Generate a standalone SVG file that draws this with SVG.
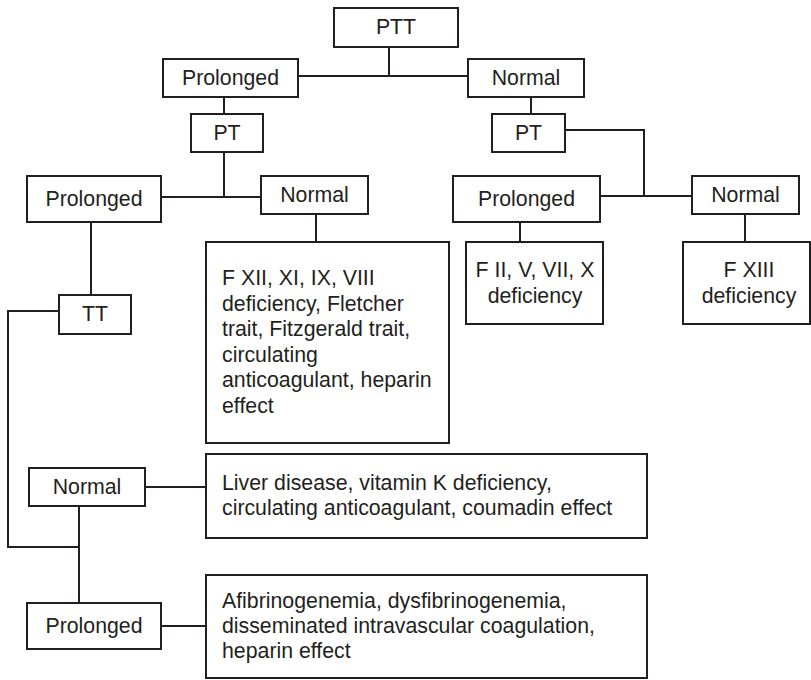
<svg xmlns="http://www.w3.org/2000/svg" width="811" height="680" viewBox="0 0 811 680">
<style>
rect{fill:#fff;stroke:#231f20;stroke-width:2}
.c{fill:none;stroke:#231f20;stroke-width:2}
text{font-family:"Liberation Sans",Arial,sans-serif;font-size:21.3px;fill:#231f20}
.m{text-anchor:middle}
</style>
<rect x="0" y="0" width="811" height="680" style="stroke:none"/>
<g id="connectors">
<path class="c" d="M389,47V76M298,76H468"/>
<path class="c" d="M224,97V114"/>
<path class="c" d="M531,97V114"/>
<path class="c" d="M224,152V197M161,197H261"/>
<path class="c" d="M565,130H644V196M600,196H692"/>
<path class="c" d="M316,214V242"/>
<path class="c" d="M520,222V242"/>
<path class="c" d="M745,214V242"/>
<path class="c" d="M91,222V295"/>
<path class="c" d="M59,311H8V547H79"/>
<path class="c" d="M145,487H206"/>
<path class="c" d="M79,506V603"/>
<path class="c" d="M161,626H206"/>
</g>
<g id="ptt"><rect x="334" y="8" width="124" height="39"/><text class="m" x="396" y="34">PTT</text></g>
<g id="ptt-prolonged"><rect x="163" y="59" width="135" height="38"/><text class="m" x="230.5" y="85">Prolonged</text></g>
<g id="ptt-normal"><rect x="468" y="59" width="116" height="38"/><text class="m" x="526" y="85">Normal</text></g>
<g id="pt-left"><rect x="191" y="114" width="72" height="38"/><text class="m" x="227" y="140">PT</text></g>
<g id="pt-right"><rect x="492" y="114" width="73" height="38"/><text class="m" x="528.5" y="140">PT</text></g>
<g id="pt-left-prolonged"><rect x="27" y="176" width="134" height="46"/><text class="m" x="94" y="206">Prolonged</text></g>
<g id="pt-left-normal"><rect x="261" y="176" width="107" height="38"/><text class="m" x="314.5" y="202">Normal</text></g>
<g id="pt-right-prolonged"><rect x="453" y="176" width="147" height="46"/><text class="m" x="526.5" y="206">Prolonged</text></g>
<g id="pt-right-normal"><rect x="692" y="176" width="107" height="38"/><text class="m" x="745.5" y="202">Normal</text></g>
<g id="intrinsic"><rect x="206" y="242" width="243" height="201"/>
<text x="222" y="285">F XII, XI, IX, VIII</text>
<text x="222" y="310.6">deficiency, Fletcher</text>
<text x="222" y="336.2">trait, Fitzgerald trait,</text>
<text x="222" y="361.8">circulating</text>
<text x="222" y="387.4">anticoagulant, heparin</text>
<text x="222" y="413">effect</text></g>
<g id="common"><rect x="466" y="242" width="137" height="82"/>
<text class="m" x="535" y="277">F II, V, VII, X</text>
<text class="m" x="535" y="303">deficiency</text></g>
<g id="fxiii"><rect x="683" y="242" width="127" height="82"/>
<text class="m" x="749" y="277">F XIII</text>
<text class="m" x="749" y="303">deficiency</text></g>
<g id="tt"><rect x="59" y="295" width="72" height="39"/><text class="m" x="95" y="321">TT</text></g>
<g id="tt-normal"><rect x="29" y="468" width="116" height="38"/><text class="m" x="87" y="494">Normal</text></g>
<g id="liver"><rect x="206" y="454" width="441" height="84"/>
<text x="222" y="490">Liver disease, vitamin K deficiency,</text>
<text x="222" y="515">circulating anticoagulant, coumadin effect</text></g>
<g id="tt-prolonged"><rect x="27" y="603" width="134" height="46"/><text class="m" x="94" y="633">Prolonged</text></g>
<g id="fibrinogen"><rect x="206" y="575" width="441" height="103"/>
<text x="222" y="608">Afibrinogenemia, dysfibrinogenemia,</text>
<text x="222" y="633">disseminated intravascular coagulation,</text>
<text x="222" y="658">heparin effect</text></g>
</svg>
